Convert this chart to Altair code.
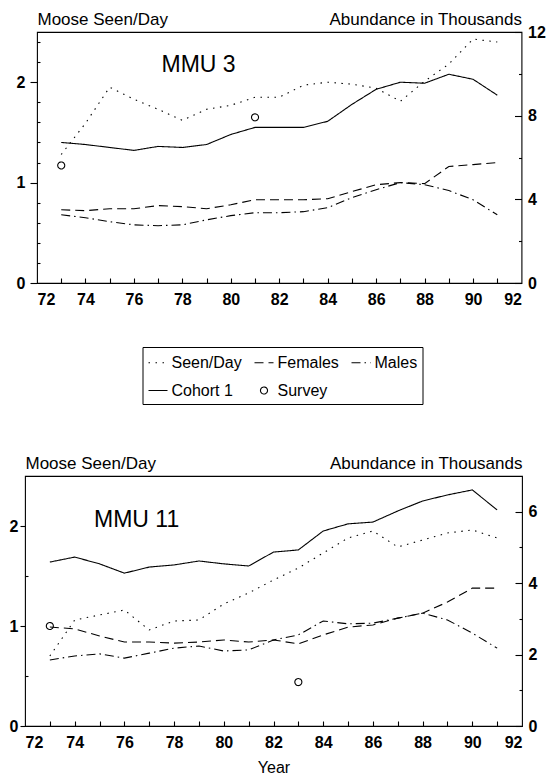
import altair as alt
import pandas as pd

FONT = "Liberation Sans"

years = list(range(73, 92))

# ---- MMU 3 (abundance values in thousands) ----
mmu3_seen = [1.28, 1.59, 1.95, 1.83, 1.73, 1.62, 1.73, 1.77, 1.85, 1.85,
             1.97, 2.00, 1.98, 1.94, 1.81, 2.01, 2.18, 2.43, 2.40]
mmu3_cohort = [6.72, 6.62, 6.48, 6.34, 6.53, 6.48, 6.62, 7.10, 7.44, 7.44,
               7.44, 7.73, 8.54, 9.26, 9.60, 9.55, 9.98, 9.74, 8.98]
mmu3_females = [3.50, 3.46, 3.55, 3.55, 3.70, 3.65, 3.55, 3.74, 3.98, 3.98,
                3.98, 4.03, 4.37, 4.70, 4.80, 4.75, 5.57, 5.66, 5.76]
mmu3_males = [3.26, 3.12, 2.93, 2.78, 2.74, 2.78, 3.02, 3.22, 3.36, 3.36,
              3.41, 3.60, 4.08, 4.46, 4.80, 4.70, 4.42, 3.98, 3.26]
mmu3_survey_years = [73, 81]
mmu3_survey = [5.62, 7.92]

# ---- MMU 11 ----
mmu11_seen = [0.70, 1.06, 1.11, 1.16, 0.96, 1.05, 1.06, 1.22, 1.33, 1.46,
              1.58, 1.73, 1.88, 1.95, 1.79, 1.86, 1.93, 1.96, 1.88]
mmu11_cohort = [4.59, 4.73, 4.54, 4.28, 4.45, 4.51, 4.62, 4.54, 4.48, 4.87,
                4.93, 5.46, 5.66, 5.71, 6.02, 6.30, 6.47, 6.61, 6.05]
mmu11_females = [2.77, 2.72, 2.52, 2.35, 2.35, 2.32, 2.35, 2.41, 2.35, 2.41,
                 2.30, 2.55, 2.77, 2.83, 3.02, 3.16, 3.47, 3.86, 3.86]
mmu11_males = [1.85, 1.96, 2.02, 1.90, 2.04, 2.18, 2.24, 2.10, 2.13, 2.41,
               2.55, 2.94, 2.86, 2.88, 3.02, 3.16, 2.97, 2.60, 2.18]
mmu11_survey_years = [73, 83]
mmu11_survey = [2.8, 1.23]

series_names = ["Seen/Day", "Females", "Males", "Cohort 1", "Survey"]
dash_styles = [[1.5, 5.5], [9, 5], [9, 4, 1.5, 4], [1, 0], [1, 0]]
CIRCLE = "M0.37,0A0.37,0.37,0,1,1,-0.37,0A0.37,0.37,0,1,1,0.37,0Z"
shape_styles = ["stroke", "stroke", "stroke", "stroke", CIRCLE]

x_label_years = list(range(72, 93, 2))
x_tick_years = list(range(73, 92))


def panel(seen, cohort, females, males, sv_years, sv_vals, W, H, ab_max,
          ab_labels, ab_ticks, major_test, seen_minor, left_tick, left_pad,
          label_text, label_x, label_y, x_title, legend):
    seen_df = pd.DataFrame({"year": years, "value": seen, "series": "Seen/Day"})
    ab_df = pd.concat([
        pd.DataFrame({"year": years, "value": females, "series": "Females"}),
        pd.DataFrame({"year": years, "value": males, "series": "Males"}),
        pd.DataFrame({"year": years, "value": cohort, "series": "Cohort 1"}),
    ])
    sv_df = pd.DataFrame({"year": sv_years, "value": sv_vals, "series": "Survey"})
    lab_df = pd.DataFrame({"label": [label_text]})

    xs = alt.Scale(domain=[72, 92], nice=False, zero=False)
    yl = alt.Scale(domain=[0, 2.5], nice=False)
    yr = alt.Scale(domain=[0, ab_max], nice=False)
    dash = alt.Scale(domain=series_names, range=dash_styles)
    shp = alt.Scale(domain=series_names, range=shape_styles)

    x_axis = alt.Axis(orient="bottom", values=x_label_years, tickSize=0,
                      labelPadding=8, domain=False, grid=False, format="d",
                      labelFontWeight="bold", title=x_title, titlePadding=9,
                      titleFontSize=16)
    left_axis = alt.Axis(orient="left", values=[0, 1, 2], tickSize=left_tick,
                         labelPadding=left_pad, domain=False, grid=False,
                         labelFontWeight="bold",
                         title="Moose Seen/Day", titleAngle=0, titleX=0,
                         titleY=-8, titleAlign="left",
                         titleBaseline="alphabetic")
    right_axis = alt.Axis(orient="right", values=ab_labels, tickSize=0,
                          labelPadding=6, domain=False, grid=False,
                          labelFontWeight="bold",
                          title="Abundance in Thousands", titleAngle=0,
                          titleX=0, titleY=-8, titleAlign="right",
                          titleBaseline="alphabetic")

    l1 = alt.Chart(seen_df).mark_line(color="black", strokeWidth=1.1).encode(
        x=alt.X("year:Q", scale=xs, axis=x_axis),
        y=alt.Y("value:Q", scale=yl, axis=left_axis),
        strokeDash=alt.StrokeDash("series:N", scale=dash, legend=None),
    )
    l2 = alt.Chart(ab_df).mark_line(color="black", strokeWidth=1.1).encode(
        x=alt.X("year:Q", scale=xs, axis=None),
        y=alt.Y("value:Q", scale=yr, axis=right_axis),
        strokeDash=alt.StrokeDash("series:N", scale=dash, legend=None),
    )
    l3 = alt.Chart(sv_df).mark_point(filled=False, color="black", size=360,
                                     strokeWidth=1.1, opacity=1).encode(
        x=alt.X("year:Q", scale=xs, axis=None),
        y=alt.Y("value:Q", scale=yr, axis=None),
        strokeDash=alt.StrokeDash("series:N", scale=dash, legend=legend),
        shape=alt.Shape("series:N", scale=shp, legend=legend),
    )
    l4 = alt.Chart(seen_df).mark_line(strokeOpacity=0).encode(
        x=alt.X("year:Q", scale=xs,
                axis=alt.Axis(orient="top", offset=-H, values=x_tick_years,
                              labels=False, domain=False, grid=False,
                              tickSize=5, title=None)),
        y=alt.Y("value:Q", scale=yl,
                axis=alt.Axis(orient="right", offset=-W, values=seen_minor,
                              labels=False, domain=False, grid=False,
                              tickSize=3, title=None)),
    )
    l5 = alt.Chart(ab_df).mark_line(strokeOpacity=0).encode(
        x=alt.X("year:Q", scale=xs, axis=None),
        y=alt.Y("value:Q", scale=yr,
                axis=alt.Axis(orient="left", offset=-W, values=ab_ticks,
                              labels=False, domain=False, grid=False,
                              tickSize={"condition": {"test": major_test, "value": 7},
                                        "value": 3},
                              title=None)),
    )
    l6 = alt.Chart(lab_df).mark_text(
        align="left", baseline="alphabetic", font=FONT, fontSize=23,
        color="black").encode(
        text="label:N", x=alt.value(label_x), y=alt.value(label_y))
    return alt.layer(l1, l2, l3, l4, l5, l6).resolve_scale(
        x="independent", y="independent",
        strokeDash="independent", shape="independent",
    ).properties(width=W, height=H)


legend_top = alt.Legend(orient="none", legendX=105.5, legendY=315, columns=3,
                        direction="horizontal",
                        title=None, strokeColor="black", fillColor="white",
                        padding=5, symbolSize=361, symbolStrokeWidth=1.1,
                        symbolStrokeColor="black", symbolFillColor="transparent",
                        labelFont=FONT, labelFontSize=16, labelColor="black",
                        labelOffset=3, columnPadding=9, rowPadding=9,
                        labelLimit=300, cornerRadius=0)

top = panel(mmu3_seen, mmu3_cohort, mmu3_females, mmu3_males,
            mmu3_survey_years, mmu3_survey, 484.5, 251, 12,
            [0, 4, 8, 12], [0, 2, 4, 6, 8, 10, 12], "datum.value % 4 === 0",
            [0.2, 0.4, 0.6, 0.8, 1.2, 1.4, 1.6, 1.8, 2.2, 2.4], 7, 5,
            "MMU 3", 124.5, 40, None, legend_top)

bottom = panel(mmu11_seen, mmu11_cohort, mmu11_females, mmu11_males,
               mmu11_survey_years, mmu11_survey, 497, 250, 7,
               [0, 2, 4, 6], [0, 1, 2, 3, 4, 5, 6], "datum.value % 2 === 0",
               [0.5, 1.5], 5, 2,
               "MMU 11", 69, 51, "Year", None)

spacer = alt.Chart(pd.DataFrame({"s": [0]})).mark_point(opacity=0).properties(
    width=11.5, height=1, view=alt.ViewBackground(stroke="transparent"))

top_cell = alt.hconcat(spacer, top, spacing=0, bounds="flush")

chart = alt.vconcat(
    top_cell, bottom, spacing=47,
    padding={"left": 8, "top": 9, "right": 0, "bottom": 2},
    background="white",
).configure_view(
    stroke="black", strokeWidth=1.1
).configure_axis(
    labelFont=FONT, labelFontSize=16, labelColor="black",
    titleFont=FONT, titleFontSize=17, titleColor="black",
    titleFontWeight="normal", tickColor="black", tickWidth=1.1,
)

chart.save("out.html", embed_options={"renderer": "svg", "actions": False})
